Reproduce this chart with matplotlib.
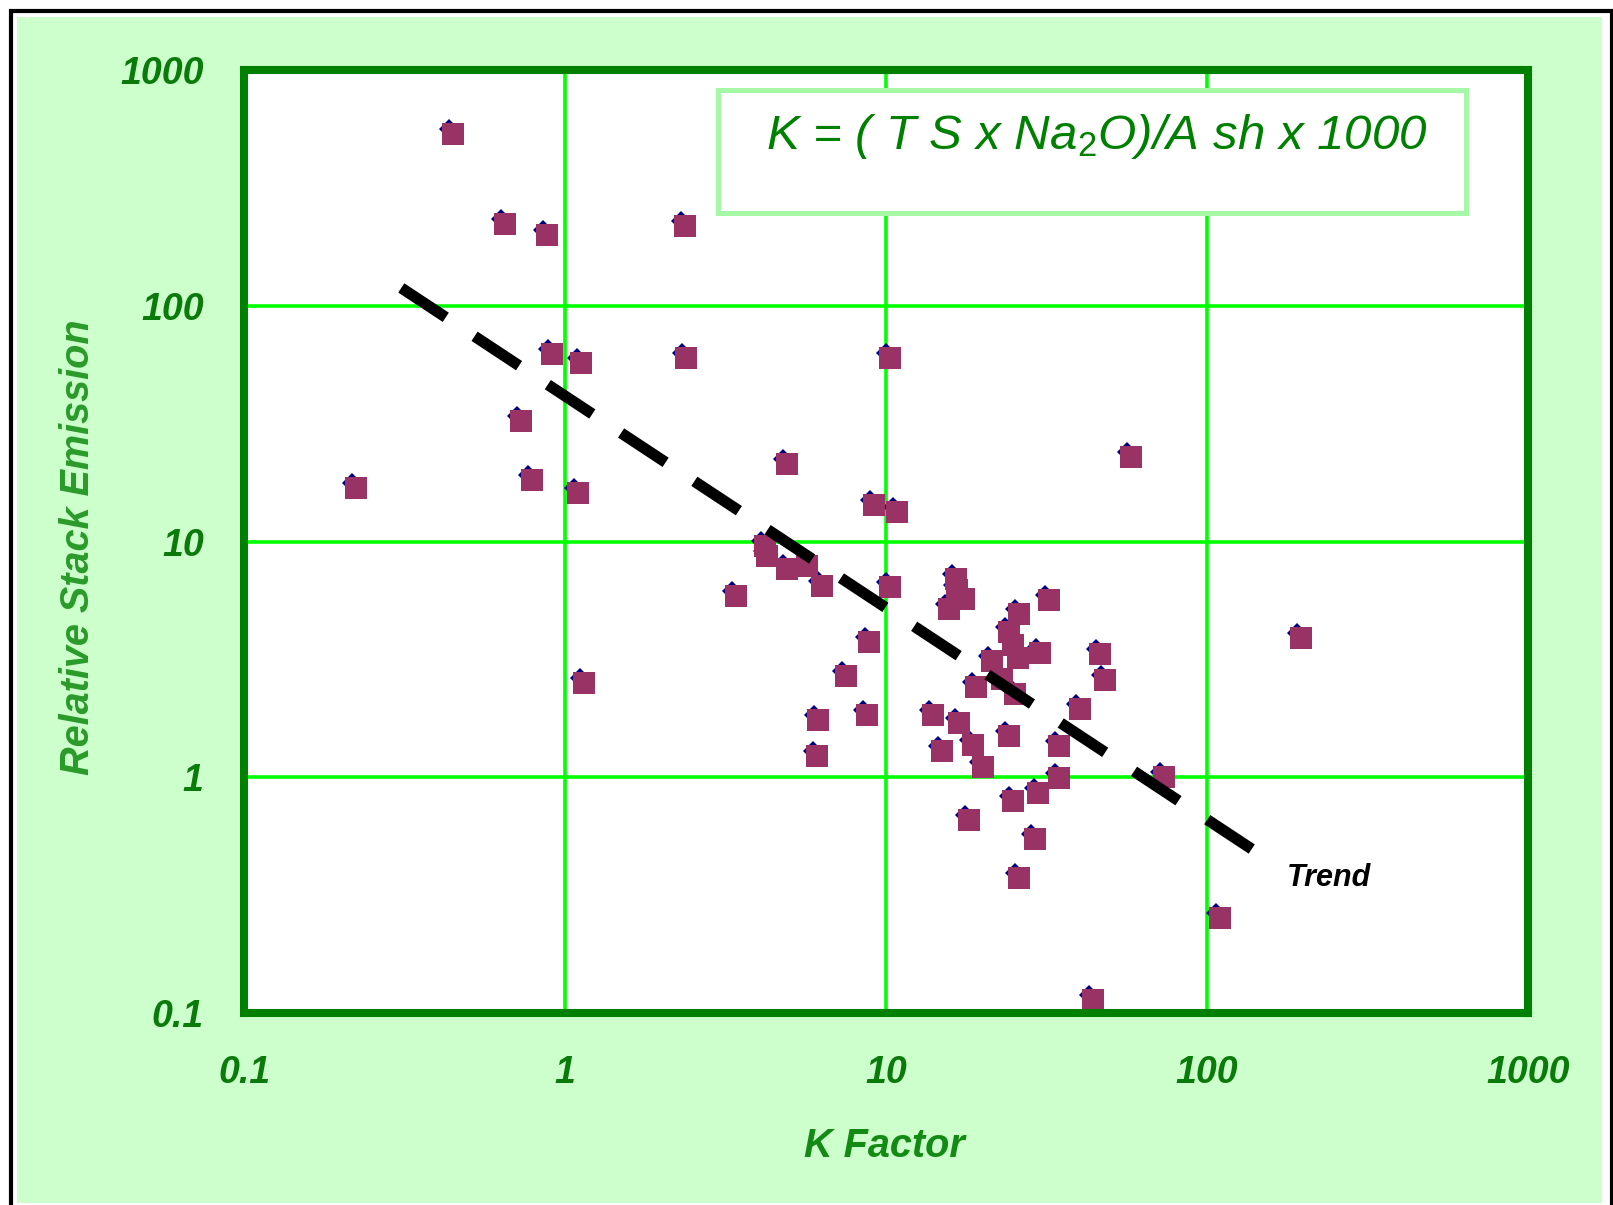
"""
plot.py
Relative stack emission vs K factor (log-log), recreated with matplotlib
"""

import matplotlib
matplotlib.use('Agg')
import matplotlib.pyplot as plt
import matplotlib.transforms as mtransforms
from matplotlib import font_manager
from matplotlib.patches import Rectangle

# -------------------------------
# DATA
# -------------------------------

k_factor = [0.447, 0.65, 0.88, 2.36, 0.91, 1.12, 2.38, 10.3, 0.73, 0.223,
            0.79, 1.10, 4.93, 57.8, 9.2, 10.8, 4.2, 4.25, 4.9, 5.67,
            6.3, 3.41, 10.3, 8.83, 7.5, 1.15, 6.15, 6.1, 8.7, 14.0,
            14.9, 16.9, 18.7, 20.1, 18.2, 24.2, 24.8, 29.8, 29.1, 25.9,
            34.5, 34.5, 44.0, 40.3, 73.6, 110.0, 196.0, 46.3, 48.0, 30.2,
            32.1, 25.9, 16.5, 16.6, 17.5, 15.7, 21.4, 19.1, 24.2, 24.8,
            25.7, 23.0, 25.3]
emission = [537, 222, 200, 217, 62.5, 57, 60, 60, 32.6, 16.9,
            18.2, 16.0, 21.3, 22.9, 14.3, 13.4, 9.55, 8.65, 7.66, 7.89,
            6.46, 5.85, 6.4, 3.76, 2.7, 2.51, 1.75, 1.23, 1.84, 1.84,
            1.29, 1.70, 1.37, 1.11, 0.66, 1.49, 0.79, 0.86, 0.545, 0.372,
            0.99, 1.36, 0.113, 1.94, 1.0, 0.252, 3.91, 3.33, 2.59, 3.36,
            5.67, 4.92, 6.94, 6.2, 5.73, 5.18, 3.10, 2.41, 4.15, 3.65,
            3.2, 2.62, 2.25]

trend_k = [0.309, 145.0]
trend_emission = [119.0, 0.474]
trend_label_pos = (177.0, 0.374)

ticks = [0.1, 1, 10, 100, 1000]
tick_labels = ['0.1', '1', '10', '100', '1000']

FORMULA = 'K = ( T S x Na$_2$O)/A sh x 1000'

# -------------------------------
# STYLE
# -------------------------------

W, H = 1613, 1205
DARK_GREEN = '#008000'
GRID_GREEN = '#00FF00'
BG_GREEN = '#CCFFCC'

installed = {f.name for f in font_manager.fontManager.ttflist}
NARROW = 'Liberation Sans Narrow' if 'Liberation Sans Narrow' in installed else 'Liberation Sans'

plt.rcParams['font.family'] = 'Liberation Sans'
plt.rcParams['mathtext.fontset'] = 'custom'
plt.rcParams['mathtext.rm'] = NARROW
plt.rcParams['mathtext.it'] = NARROW + ':italic'

fig = plt.figure(figsize=(W / 100, H / 100), dpi=100, facecolor='white')

# outer frame + green background (behind the axes)
fig.patches.append(Rectangle((10.5 / W, -0.01), (1611.5 - 10.5) / W, 1.01 - 10.5 / H,
                             transform=fig.transFigure, fill=False,
                             edgecolor='black', linewidth=3, zorder=-10))
fig.patches.append(Rectangle((17 / W, 2 / H), (1602 - 17) / W, (1203 - 17) / H,
                             transform=fig.transFigure, facecolor=BG_GREEN,
                             edgecolor='none', zorder=-10))

ax = fig.add_axes([244 / W, (H - 1013) / H, (1528 - 244) / W, (1013 - 70) / H])
ax.set_zorder(1)
ax.set_facecolor('white')
ax.set_xscale('log')
ax.set_yscale('log')
ax.set_xlim(0.1, 1000)
ax.set_ylim(0.1, 1000)

ax.minorticks_off()
ax.grid(True, which='major', color=GRID_GREEN, linewidth=2.6)
ax.set_axisbelow(True)
for sp in ax.spines.values():
    sp.set_color(DARK_GREEN)
    sp.set_linewidth(5.8)
    sp.set_zorder(5)

tick_font = dict(family='Liberation Sans', weight='bold', style='italic', size=27)
ax.set_xticks(ticks, tick_labels)
ax.set_yticks(ticks, tick_labels)
ax.minorticks_off()
ax.tick_params(axis='both', length=0, colors='#0a7a0a')
ax.tick_params(axis='x', pad=30)
ax.tick_params(axis='y', pad=29)
for lab in ax.get_xticklabels() + ax.get_yticklabels():
    lab.set_fontproperties(font_manager.FontProperties(**tick_font))

label_font = dict(family='Liberation Sans', weight='bold', style='italic', size=28.5)
ax.set_xlabel('K Factor', color='#138a13', va='center', **label_font)
ax.xaxis.set_label_coords(0.499, -0.141)
ax.set_ylabel('Relative Stack Emission', color='#2a9a2a', va='center', **label_font)
ax.yaxis.set_label_coords(-0.1293, 0.494)

# points: navy diamond slightly behind/up-left, maroon square on top
shift = mtransforms.offset_copy(ax.transData, fig=fig, x=-4, y=5, units='dots')
ax.plot(k_factor, emission, linestyle='none', marker='D', markersize=10,
        color='#000080', markeredgewidth=0, transform=shift, zorder=3)
ax.plot(k_factor, emission, linestyle='none', marker='s', markersize=15.5,
        color='#993366', markeredgewidth=0, zorder=4)

# trend line
trend, = ax.plot(trend_k, trend_emission, color='black', linewidth=8,
                 solid_capstyle='butt', dash_capstyle='butt', zorder=4)
trend.set_dashes((4.8, 3.1))
ax.text(trend_label_pos[0], trend_label_pos[1], 'Trend', ha='left', va='center',
        fontsize=22, fontweight='bold', fontstyle='italic', color='black', zorder=6)

# formula box
ax.add_patch(Rectangle((0.3692, 0.8484), 0.5825, 0.1304, transform=ax.transAxes,
                       facecolor='white', edgecolor='#a6f7a6', linewidth=3.6, zorder=4))
ax.text(0.664, 0.930, FORMULA, transform=ax.transAxes, ha='center', va='center',
        fontsize=39 if NARROW != 'Liberation Sans' else 35.5,
        family=NARROW, style='italic', color=DARK_GREEN, zorder=6)

fig.savefig('out.png', dpi=100, facecolor=fig.get_facecolor())
